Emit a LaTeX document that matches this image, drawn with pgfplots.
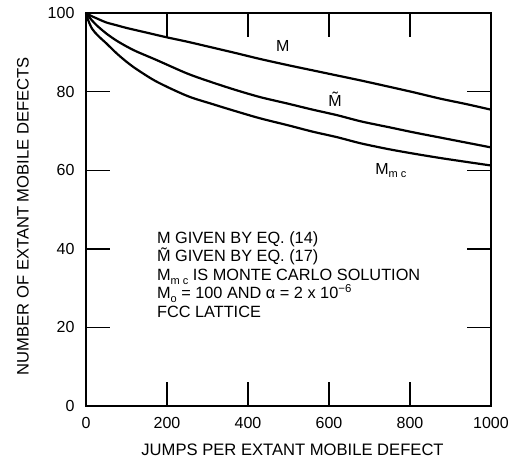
\documentclass[border=0pt]{standalone}
\usepackage{fontspec}
\setmainfont{Liberation Sans}
\usepackage{pgfplots}
\pgfplotsset{compat=1.18}
\newcommand{\sub}[1]{\raisebox{-0.45ex}{\fontsize{11}{11}\selectfont #1}}
\begin{document}
\begin{tikzpicture}
\begin{axis}[
  scale only axis,
  width=405pt, height=393pt,
  xmin=0, xmax=1000, ymin=0, ymax=100,
  xtick={0,200,400,600,800,1000},
  ytick={0,20,40,60,80,100},
  tick align=inside,
  major tick length=24pt,
  tick style={line width=1.4pt, black},
  axis line style={line width=2.4pt},
  /pgf/number format/assume math mode=true,
  /pgf/number format/1000 sep={},
  ticklabel style={font=\fontsize{16}{18}\selectfont},
  xticklabel style={yshift=-8pt},
  yticklabel style={xshift=-8pt},
  label style={font=\fontsize{16.6}{18}\selectfont},
  xlabel={JUMPS PER EXTANT MOBILE DEFECT},
  ylabel={NUMBER OF EXTANT MOBILE DEFECTS},
  xlabel style={at={(axis description cs:0.51,-0.112)}, anchor=center},
  ylabel style={at={(axis description cs:-0.156,0.483)}, anchor=center},
  clip=false,
]
\addplot[black, line width=2.2pt, smooth] coordinates {
 (0,100) (10,99.4) (25,98.7) (50,97.6) (75,96.9) (100,96.2) (150,95.0) (200,93.8) (250,92.7) (300,91.5) (370,89.8) (430,88.3) (500,86.7) (560,85.4) (620,84.1) (680,82.8) (750,81.2) (810,79.8) (875,78.2) (940,76.8) (1000,75.4)};
\addplot[black, line width=2.2pt, smooth] coordinates {
 (0,100) (10,98.7) (25,97.0) (50,94.8) (75,93.0) (100,91.5) (125,90.2) (175,88.0) (250,84.6) (310,82.4) (370,80.4) (430,78.6) (500,76.9) (560,75.4) (620,74.0) (680,72.4) (750,70.9) (810,69.6) (875,68.3) (940,67.0) (1000,65.8)};
\addplot[black, line width=2.2pt, smooth] coordinates {
 (0,100) (5,98.3) (15,96.0) (30,94.2) (50,92.3) (75,89.8) (100,87.6) (125,85.7) (175,82.5) (250,78.9) (310,76.9) (370,75.0) (430,73.2) (500,71.4) (560,69.8) (620,68.4) (680,66.8) (750,65.3) (810,64.2) (875,63.1) (940,62.1) (1000,61.2)};
\node[font=\fontsize{16}{18}\selectfont, anchor=base] at (axis cs:486,90.3) {M};
\node[font=\fontsize{16}{18}\selectfont, anchor=base] at (axis cs:615,76.3) {\~{M}};
\node[font=\fontsize{16}{18}\selectfont, anchor=base west, inner sep=0pt] at (axis cs:714,59.0) {M\sub{m c}};
\node[anchor=north west, align=left, font=\fontsize{16.3}{18.6}\selectfont, inner sep=0pt] at (axis cs:175,44.5) {%
M GIVEN BY EQ. (14)\\
\~{M} GIVEN BY EQ. (17)\\
M\sub{m c} IS MONTE CARLO SOLUTION\\
M\sub{o} = 100 AND α = 2 x 10\textsuperscript{−6}\\
FCC LATTICE};
\path (axis description cs:-0.2123,-0.1425) rectangle (axis description cs:1.0593,1.0331);
\end{axis}
\end{tikzpicture}
\end{document}
